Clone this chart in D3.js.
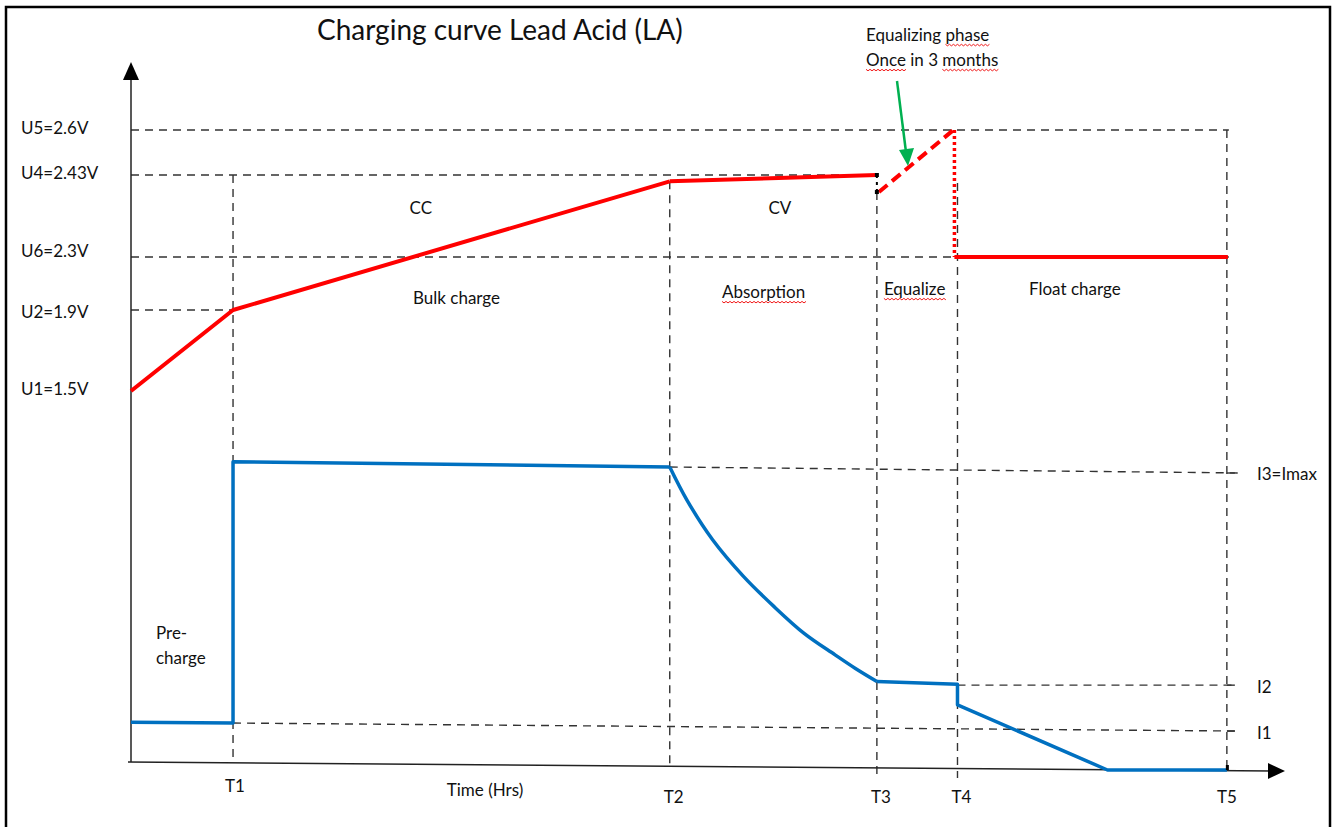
<!DOCTYPE html>
<html><head><meta charset="utf-8">
<script src="https://cdn.jsdelivr.net/npm/d3@7"></script>
<style>
html,body{margin:0;padding:0;background:#fff;}
svg{display:block;font-family:Lato,"Open Sans",sans-serif;}
</style></head>
<body><svg id="c" width="1337" height="827"></svg>
<script>
// ---------- data ----------
const title = "Charging curve Lead Acid (LA)";
const timeTickNames = ["T1","T2","T3","T4","T5"];
const timeTickValues = [1.0, 5.28, 7.31, 8.10, 10.74];
const voltLevelNames = ["U1=1.5V","U2=1.9V","U6=2.3V","U4=2.43V","U5=2.6V"];
const voltLevels = [1.5, 1.9, 2.3, 2.43, 2.6];
const currentLevelNames = ["I1","I2","I3=Imax"];
const currentLevels = [0.155, 0.28, 1.0];

// voltage (red) segments: [time, volts]
const voltBulk = [[0,1.5],[1.0,1.9],[5.28,2.42]];
const voltAbsorption = [[5.28,2.42],[7.31,2.43]];
const voltEqualize = [[7.33,2.403],[8.06,2.6]];
const voltDrop = [[8.07,2.6],[8.07,2.3]];
const voltFloat = [[8.07,2.3],[10.75,2.3]];

// current (blue): [time, relative current]
const currentPre = [[0,0.158],[1.0,0.155],[1.0,1.017],[5.28,1.0]];
const currentDecay = [[5.28,1.0],[5.45,0.89],[5.7,0.76],[6.0,0.64],[6.3,0.54],
  [6.6,0.45],[6.9,0.38],[7.1,0.335],[7.31,0.292]];
const currentTail = [[7.31,0.292],[8.10,0.283],[8.10,0.215],[9.57,0.0],[10.74,0.0]];

const phaseLabels = ["CC","CV","Bulk charge","Absorption","Equalize","Float charge"];
const phaseLabelTimes = [2.84, 6.36, 3.19, 6.2, 7.68, 9.25];
const phaseLabelVolts = [2.375, 2.375, 1.975, 2.02, 2.043, 2.043];

// ---------- scales ----------
const svg = d3.select("#c");
const x = d3.scaleLinear().domain([0, 11.3]).range([131, 1284]);
const yV = d3.scaleLinear().domain(voltLevels).range([391, 310, 257, 175, 130]);
const yI = d3.scaleLinear().domain([0, 1]).range([770, 467]);

// frame
svg.append("path").attr("d","M6,827 V7 H1330 V827").attr("fill","none").attr("stroke","#000").attr("stroke-width",2.5);

const dash = "8,6";
const refColor = "#333";
function ref(x1,y1,x2,y2){
  svg.append("line").attr("x1",x1).attr("y1",y1).attr("x2",x2).attr("y2",y2)
    .attr("stroke",refColor).attr("stroke-width",1.4).attr("stroke-dasharray",dash);
}
const tT = {}; timeTickNames.forEach((n,i)=>tT[n]=timeTickValues[i]);
ref(x(0), yV(2.6), x(tT.T5)+2, yV(2.6));
ref(x(0), yV(2.43), x(voltAbsorption[1][0]), yV(2.43));
ref(x(0), yV(2.3), x(tT.T5)+2, yV(2.3));
ref(x(0), yV(1.9), x(tT.T1), yV(1.9));
ref(x(tT.T1), yV(2.43), x(tT.T1), yI(0)-8);
ref(x(tT.T2), yV(2.42), x(tT.T2), yI(0)-2);
ref(x(tT.T3), yV(2.403), x(tT.T3), yI(0)+8);
ref(x(tT.T4), 183, x(tT.T4), yI(0)+8);
ref(x(tT.T5), yV(2.6), x(tT.T5), yI(0));
ref(x(tT.T2), yI(1.0), x(tT.T5)+16, yI(1.0)+6);
ref(x(tT.T4), yI(0.28), x(tT.T5)+10, yI(0.28));
ref(x(tT.T1), yI(0.155), x(tT.T5)+8, yI(0.155)+8);
[yI(1.0)+6, yI(0.28), yI(0.155)+8].forEach(yy=>{
  svg.append("line").attr("x1",x(tT.T5)).attr("x2",x(tT.T5)+8).attr("y1",yy).attr("y2",yy).attr("stroke",refColor).attr("stroke-width",1.4);
});

// axes
svg.append("line").attr("x1",x(0)).attr("y1",yI(0)-8).attr("x2",x(0)).attr("y2",70).attr("stroke","#222").attr("stroke-width",1.5);
svg.append("path").attr("d",`M${x(0)},62 L${x(0)-8},80 L${x(0)+8},80 Z`).attr("fill","#000");
svg.append("line").attr("x1",x(0)-3).attr("y1",yI(0)-8).attr("x2",1272).attr("y2",yI(0)+1).attr("stroke","#222").attr("stroke-width",1.5);
svg.append("path").attr("d",`M1285,${yI(0)+1} L1268,${yI(0)-7} L1268,${yI(0)+9} Z`).attr("fill","#000");

// voltage line
const lineV = d3.line().x(d=>x(d[0])).y(d=>yV(d[1]));
const red = "#ff0000";
[voltBulk, voltAbsorption, voltFloat].forEach(s=>{
  svg.append("path").attr("d",lineV(s)).attr("fill","none").attr("stroke",red).attr("stroke-width",4).attr("stroke-linejoin","round");
});
svg.append("path").attr("d",lineV(voltEqualize)).attr("fill","none").attr("stroke",red).attr("stroke-width",4).attr("stroke-dasharray","11,6");
svg.append("path").attr("d",lineV(voltDrop)).attr("fill","none").attr("stroke",red).attr("stroke-width",3.5).attr("stroke-dasharray","3,3");
svg.append("line").attr("x1",x(7.31)).attr("x2",x(7.31)).attr("y1",yV(2.43)).attr("y2",yV(2.403))
  .attr("stroke","#000").attr("stroke-width",2).attr("stroke-dasharray","3,4");
[yV(2.43), yV(2.403)].forEach(yy=>svg.append("rect").attr("x",x(7.31)-2).attr("y",yy-2).attr("width",4).attr("height",4).attr("fill","#000"));

// current line
const blue = "#0070c0";
const lineIStraight = d3.line().x(d=>x(d[0])).y(d=>yI(d[1]));
const lineICurve = d3.line().x(d=>x(d[0])).y(d=>yI(d[1])).curve(d3.curveCatmullRom.alpha(0.5));
[[currentPre, lineIStraight],[currentDecay, lineICurve],[currentTail, lineIStraight]].forEach(([s,g])=>{
  svg.append("path").attr("d", g(s)).attr("fill","none").attr("stroke",blue).attr("stroke-width",3.5).attr("stroke-linejoin","round");
});
svg.append("rect").attr("x",x(tT.T5)-1).attr("y",yI(0)-5).attr("width",3).attr("height",5).attr("fill","#000");

// text
const txtColor = "#111";
const fs = 17;
function label(t, xx, yy, size, anchor){
  return svg.append("text").attr("x",xx).attr("y",yy).attr("font-size",size).attr("fill",txtColor)
    .attr("text-anchor",anchor||"start").attr("dominant-baseline","middle").text(t);
}
function squiggle(textSel, start, len){
  const n = textSel.node();
  const x1 = n.getStartPositionOfChar(start).x;
  const x2 = n.getEndPositionOfChar(start+len-1).x;
  const bb = n.getBBox();
  const yy = bb.y + bb.height - 1;
  let d = `M${x1},${yy}`;
  for (let xx=x1, k=0; xx<x2; xx+=2, k++) d += ` L${xx+2},${yy + (k%2?0:1.5)}`;
  svg.append("path").attr("d",d).attr("fill","none").attr("stroke","#e00").attr("stroke-width",0.9);
}
svg.append("text").attr("x",317).attr("y",33).attr("font-size",28).attr("fill",txtColor)
  .attr("dominant-baseline","middle").text(title);

voltLevelNames.forEach((n,i)=> label(n, 21, yV(voltLevels[i]) + (i===2? -4 : i===1? 4 : 0), fs));
currentLevelNames.forEach((n,i)=> label(n, 1257, yI(currentLevels[i]) + (i===0? 12 : i===1? 4 : 9), fs));
timeTickNames.forEach((n,i)=> label(n, x(timeTickValues[i]) + (i===0?2: i===4? 0 : 4), i===0?788:799, fs, "middle"));
label("Time (Hrs)", 485, 792, fs, "middle");
const phaseSel = phaseLabels.map((n,i)=> label(n, x(phaseLabelTimes[i]), yV(phaseLabelVolts[i]), fs, "middle"));
label("Pre-", 156, 635, fs);
label("charge", 156, 660, fs);
const eq1 = label("Equalizing phase", 866, 37, fs);
const eq2 = label("Once in 3 months", 866, 62, fs);
squiggle(eq1, 11, 5);
squiggle(eq2, 0, 4);
squiggle(eq2, 10, 6);
squiggle(phaseSel[3], 0, 10);
squiggle(phaseSel[4], 0, 8);

// green arrow
svg.append("line").attr("x1",897).attr("y1",81).attr("x2",906).attr("y2",152).attr("stroke","#00b050").attr("stroke-width",2.5);
svg.append("path").attr("d","M908,166 L899,150 L914,148 Z").attr("fill","#00b050");
</script></body></html>
